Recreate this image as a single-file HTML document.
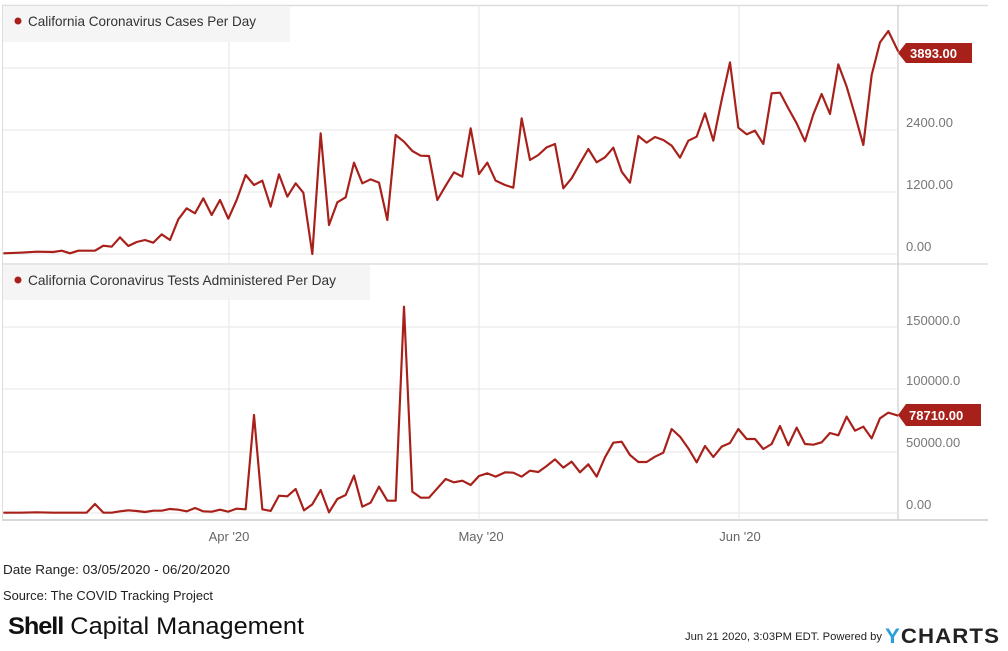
<!DOCTYPE html>
<html><head><meta charset="utf-8"><style>
body{margin:0;background:#fff;width:1008px;height:646px;overflow:hidden;font-family:"Liberation Sans",sans-serif}
</style></head><body>
<svg width="1008" height="646" xmlns="http://www.w3.org/2000/svg" font-family="Liberation Sans, sans-serif">
<rect width="1008" height="646" fill="#fff"/>
<line x1="2" y1="5.5" x2="988" y2="5.5" stroke="#ddd" stroke-width="1.5"/>
<line x1="2" y1="264" x2="988" y2="264" stroke="#ddd" stroke-width="1.5"/>
<line x1="2" y1="520" x2="988" y2="520" stroke="#ccc" stroke-width="1.5"/>
<line x1="2.5" y1="5" x2="2.5" y2="520" stroke="#ddd"/>
<line x1="898" y1="5" x2="898" y2="520" stroke="#ccc" stroke-width="1.2"/>
<g stroke="#e6e6e6" stroke-width="1">
<line x1="3" y1="68" x2="898" y2="68"/><line x1="3" y1="130" x2="898" y2="130"/><line x1="3" y1="192" x2="898" y2="192"/><line x1="3" y1="254" x2="898" y2="254"/>
<line x1="3" y1="327" x2="898" y2="327"/><line x1="3" y1="389" x2="898" y2="389"/><line x1="3" y1="452" x2="898" y2="452"/><line x1="3" y1="513" x2="898" y2="513"/>
<line x1="229" y1="5" x2="229" y2="520"/><line x1="479" y1="5" x2="479" y2="520"/><line x1="739" y1="5" x2="739" y2="520"/>
</g>
<rect x="3" y="7" width="287" height="35" fill="#f4f4f4" opacity="0.9"/>
<circle cx="18" cy="21" r="3.5" fill="#a8201a"/>
<text x="28" y="26" font-size="14" fill="#333" textLength="228" lengthAdjust="spacingAndGlyphs">California Coronavirus Cases Per Day</text>
<rect x="3" y="265" width="367" height="35" fill="#f4f4f4" opacity="0.9"/>
<circle cx="18" cy="280" r="3.5" fill="#a8201a"/>
<text x="28" y="285" font-size="14" fill="#333" textLength="308" lengthAdjust="spacingAndGlyphs">California Coronavirus Tests Administered Per Day</text>
<g font-size="13" fill="#777">
<text x="906" y="251">0.00</text><text x="906" y="189">1200.00</text><text x="906" y="127">2400.00</text>
<text x="906" y="509">0.00</text><text x="906" y="447">50000.00</text><text x="906" y="385">100000.0</text><text x="906" y="325">150000.0</text>
</g>
<g fill="none" stroke="#a8201a" stroke-width="6.5" stroke-linejoin="round">
<polyline transform="scale(0.33333)" points="10,760 60,758 110,755 160,756 185,752 210,760 235,752 285,752 310,737 335,740 360,712 385,738 410,726 435,720 460,728 485,703 510,720 535,658 560,625 585,640 610,595 635,645 660,600 685,656 710,600 737,525 762,555 787,542 812,620 837,523 862,590 887,550 910,578 937,762 962,400 987,675 1012,607 1037,592 1062,488 1087,550 1112,538 1137,548 1162,660 1187,405 1212,425 1237,453 1262,467 1287,468 1312,600 1337,557 1362,517 1387,530 1412,385 1437,522 1462,488 1487,542 1515,555 1540,563 1565,355 1590,480 1615,465 1640,442 1665,432 1690,565 1715,535 1740,490 1765,447 1790,487 1815,472 1840,443 1865,515 1890,548 1915,408 1940,428 1965,411 1990,420 2015,437 2040,473 2065,422 2090,410 2115,340 2140,422 2165,300 2190,187 2215,383 2240,403 2265,392 2290,432 2315,280 2340,278 2365,325 2390,370 2415,424 2440,343 2465,282 2490,342 2515,193 2540,260 2565,345 2590,435 2615,225 2640,127 2665,93 2695,155"/>
<polyline transform="translate(0,270) scale(0.33333)" points="10,728 60,728 110,727 160,728 210,728 260,728 285,702 310,728 335,728 360,724 385,721 410,723 435,726 460,722 485,722 510,717 535,719 560,724 585,714 610,724 635,725 660,719 685,725 710,716 737,718 762,435 787,718 812,723 837,677 862,679 887,657 912,721 937,703 962,660 987,727 1012,687 1037,675 1062,617 1087,710 1112,698 1137,650 1162,692 1187,692 1212,110 1237,665 1262,683 1287,683 1312,655 1337,627 1362,637 1387,632 1412,645 1437,618 1462,610 1487,620 1515,607 1540,608 1565,620 1590,602 1615,606 1640,588 1665,568 1690,593 1715,575 1740,607 1765,583 1790,620 1815,562 1840,518 1865,515 1890,555 1915,576 1940,576 1965,560 1990,548 2015,477 2040,500 2065,535 2090,577 2115,528 2140,561 2165,530 2190,519 2215,477 2240,507 2265,507 2290,537 2315,522 2340,468 2365,526 2390,473 2415,522 2440,524 2465,517 2490,489 2515,496 2540,440 2565,482 2590,470 2615,505 2640,445 2665,428 2695,437"/>
</g>
<polygon points="898,53 906,43 972,43 972,63 906,63" fill="#a8201a"/>
<text x="910" y="58" font-size="13" font-weight="bold" fill="#fff">3893.00</text>
<polygon points="898,415 906,404 981,404 981,426 906,426" fill="#a8201a"/>
<text x="909" y="420" font-size="13" font-weight="bold" fill="#fff">78710.00</text>
<g font-size="13" fill="#666" text-anchor="middle">
<text x="229" y="541">Apr '20</text><text x="481" y="541">May '20</text><text x="740" y="541">Jun '20</text>
</g>
<g font-size="13" fill="#222">
<text x="3" y="574" textLength="227" lengthAdjust="spacingAndGlyphs">Date Range: 03/05/2020 - 06/20/2020</text>
<text x="3" y="600" textLength="210" lengthAdjust="spacingAndGlyphs">Source: The COVID Tracking Project</text>
</g>
<text x="8" y="634" font-size="24" fill="#111" textLength="296" lengthAdjust="spacingAndGlyphs"><tspan font-weight="bold" letter-spacing="-1">Shell</tspan> Capital Management</text>
<text x="685" y="640" font-size="11" fill="#222" textLength="197" lengthAdjust="spacingAndGlyphs">Jun 21 2020, 3:03PM EDT.  Powered by</text>
<text x="885" y="643" font-size="21" font-weight="bold" fill="#222" letter-spacing="1" textLength="115" lengthAdjust="spacingAndGlyphs"><tspan fill="#2a9fd8">Y</tspan>CHARTS</text>
</svg>
</body></html>
